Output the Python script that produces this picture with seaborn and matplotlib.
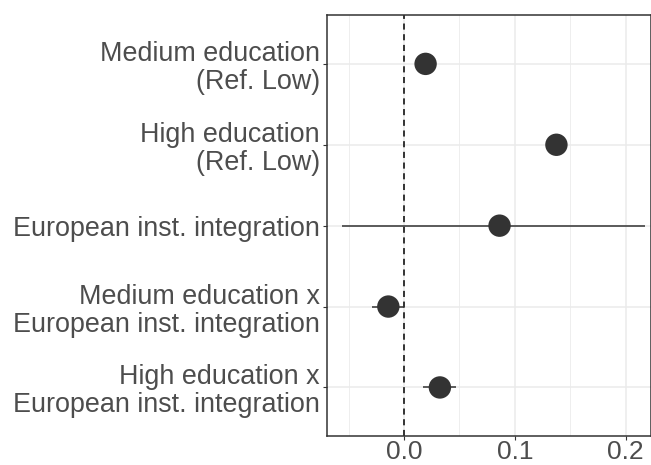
import matplotlib
matplotlib.use("Agg")
import matplotlib.pyplot as plt
import pandas as pd
import seaborn as sns

# Coefficient estimates with confidence intervals
terms = [
    "Medium education\n(Ref. Low)",
    "High education\n(Ref. Low)",
    "European inst. integration",
    "Medium education x\nEuropean inst. integration",
    "High education x\nEuropean inst. integration",
]
estimates = [0.0195, 0.1375, 0.0862, -0.0141, 0.0324]
ci_low = [0.0175, 0.1355, -0.0559, -0.0285, 0.0174]
ci_high = [0.0215, 0.1395, 0.2170, 0.0000, 0.0468]

df = pd.DataFrame({"term": terms, "estimate": estimates,
                   "lo": ci_low, "hi": ci_high})
df["ypos"] = range(len(df))

sns.set_theme(style="whitegrid")
plt.rcParams["font.family"] = ["Liberation Sans", "DejaVu Sans"]

fig = plt.figure(figsize=(6.51, 4.65), dpi=100)
ax = fig.add_axes([0.502, 0.0624, 0.4975, 0.9046])

ax.hlines(df["ypos"], df["lo"], df["hi"], color="#333333", linewidth=1.1, zorder=2)
sns.scatterplot(data=df, x="estimate", y="ypos", color="#333333", s=260,
                edgecolor="none", ax=ax, zorder=3)
ax.axvline(0, color="black", linestyle=(0, (4, 3)), linewidth=1.1, zorder=1)

ax.set_xlim(-0.0696, 0.2225)
ax.set_ylim(len(df) - 0.4, -0.6)
ax.set_xticks([0.0, 0.1, 0.2])
ax.set_xticks([-0.05, 0.05, 0.15], minor=True)
ax.set_xticklabels(["0.0", "0.1", "0.2"])
ax.set_yticks(df["ypos"])
ax.set_yticklabels(df["term"], ha="right", multialignment="right", linespacing=1.1)
ax.set_xlabel("")
ax.set_ylabel("")

ax.grid(True, which="major", color="#EBEBEB", linewidth=1.1)
ax.grid(True, which="minor", axis="x", color="#EBEBEB", linewidth=0.6)
ax.tick_params(axis="both", which="major", labelsize=19.4, labelcolor="#4D4D4D",
               length=3, width=0.8, color="#333333", left=True, bottom=True, pad=2)
ax.tick_params(axis="x", which="major", pad=0, labelsize=19)
ax.tick_params(axis="x", which="minor", length=0)
for spine in ax.spines.values():
    spine.set_color("#333333")
    spine.set_linewidth(1.1)

fig.savefig("out.png", dpi=100)
